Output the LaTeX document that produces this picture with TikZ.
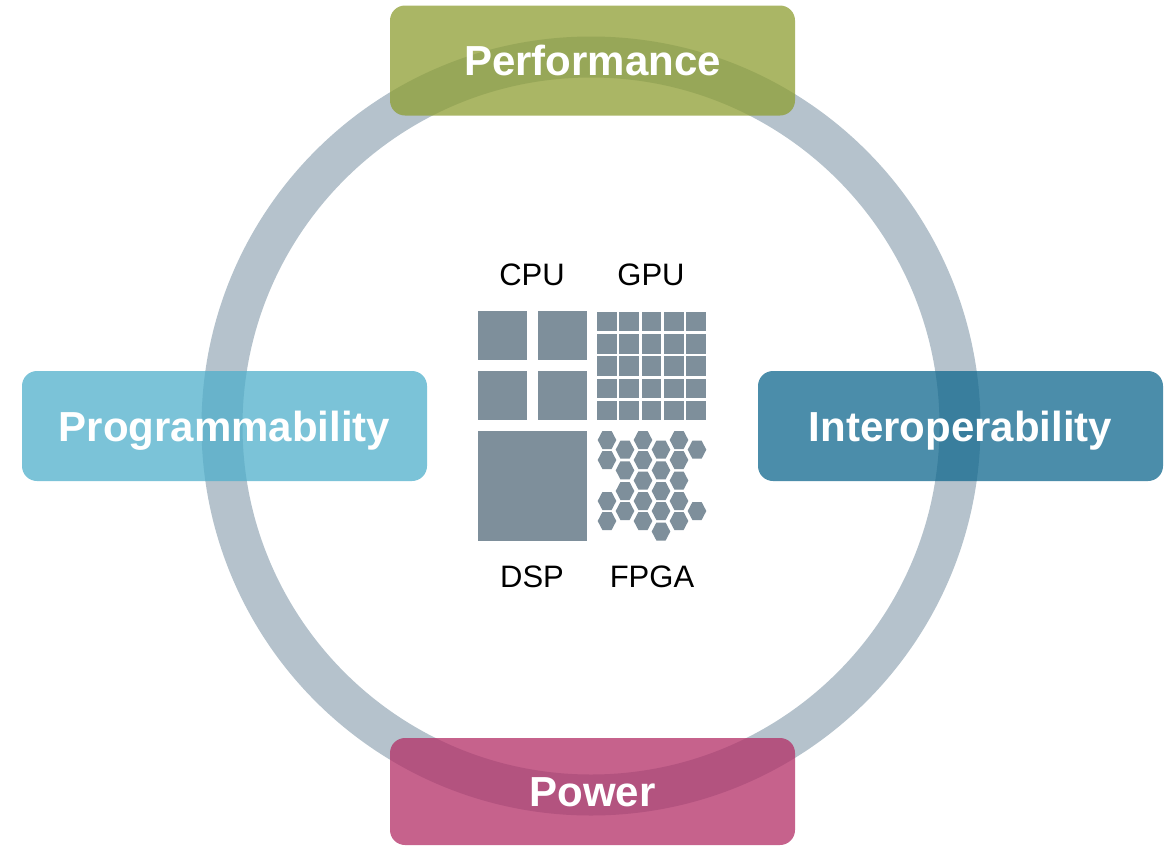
\documentclass[tikz,border=0pt]{standalone}
\usepackage{fontspec}
\setmainfont{Liberation Sans}
\definecolor{ringc}{RGB}{181,194,204}
\definecolor{chipc}{RGB}{126,143,155}
\definecolor{perfc}{RGB}{142,158,50}
\definecolor{progc}{RGB}{79,175,203}
\definecolor{interc}{RGB}{16,104,142}
\definecolor{powc}{RGB}{179,46,102}
\begin{document}
\begin{tikzpicture}[x=1pt,y=-1pt,
  pillar/.style={draw=none, rounded corners=15pt, minimum width=405pt, minimum height=110pt,
    fill opacity=0.75, text opacity=1, text=white, inner sep=0pt,
    font=\fontsize{42}{50}\selectfont\bfseries, text height=30.1pt, text depth=0pt},
  chiplabel/.style={inner sep=0pt, font=\fontsize{31}{37}\selectfont, text height=22.2pt, text depth=0pt},
  chip/.style={fill=chipc}]
\useasboundingbox (0,0) rectangle (1172,846);
\fill[white] (0,0) rectangle (1172,846);
% ring
\coordinate (c) at (591,426);
\draw[ringc, line width=41pt] (c) circle[radius=369pt];
% boxes
\node[pillar, fill=perfc] (perf) at (592.5,60.5) {Performance};
\node[pillar, fill=progc] (prog) at (224.5,426) {Programmability};
\node[pillar, fill=interc] (inter) at (960.5,426) {Interoperability};
\node[pillar, fill=powc, minimum height=107pt] (pow) at (592.5,791.5) {Power};
% chip labels
\node[chiplabel] (cpu) at (532,274) {CPU};
\node[chiplabel] (gpu) at (651,274) {GPU};
\node[chiplabel] (dsp) at (532,576) {DSP};
\node[chiplabel] (fpga) at (652,576) {FPGA};
% CPU
\foreach \i in {0,1}{\foreach \j in {0,1}{
  \fill[chip] (478+60*\i,311+60*\j) rectangle ++(49,49);
}}
% GPU
\foreach \i in {0,...,4}{\foreach \j in {0,...,4}{
  \fill[chip] (597+22.3*\i,312+22.2*\j) rectangle ++(19.7,19.3);
}}
% DSP
\fill[chip] (478,431) rectangle (587,541);
% FPGA hexagons
\foreach \x/\y in {607/440,607/460,607/501,607/521,
  625/449.7,625/470.3,625/491,625/511,
  643/440,643/460,643/480.5,643/501,643/521,
  661/449.7,661/470.3,661/491,661/511,661/531.5,
  679/440,679/460,679/480.5,679/501,679/521,
  697/449.7,697/511}{
  \fill[chip] (\x-9.3,\y) -- (\x-4.6,\y-9) -- (\x+4.6,\y-9) -- (\x+9.3,\y) -- (\x+4.6,\y+9) -- (\x-4.6,\y+9) -- cycle;
}
\end{tikzpicture}
\end{document}
